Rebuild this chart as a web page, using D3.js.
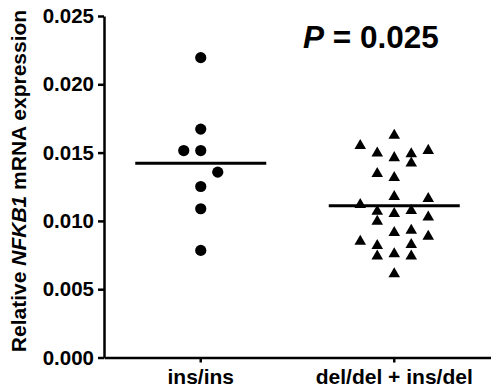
<!DOCTYPE html>
<html>
<head>
<meta charset="utf-8">
<script src="https://cdn.jsdelivr.net/npm/d3@7"></script>
<style>
  body { margin: 0; background: #fff; }
  svg { display: block; font-family: "Liberation Sans", Arial, sans-serif; }
</style>
</head>
<body>
<figure id="dot" style="margin:0"></figure>
<script>
// groups on the x axis
const groups = ["ins/ins", "del/del + ins/del"]
const yTicks = [0, 0.005, 0.010, 0.015, 0.020, 0.025]
const pLabel = "0.025"

// ins/ins values (circles) and their swarm column
const insValues = [0.02195, 0.01672, 0.01515, 0.01515, 0.01357, 0.01252, 0.01089, 0.00784]
const insSlot = [0, 0, -1, 0, 1, 0, 0, 0]

// del/del + ins/del values (triangles) and their swarm column
const delValues = [0.01625, 0.01550, 0.01496, 0.01462, 0.01491, 0.01423, 0.01515, 0.01345, 0.01316,
  0.01177, 0.01162, 0.01118, 0.01069, 0.01053, 0.01075, 0.00996, 0.01028, 0.00914, 0.00931,
  0.00887, 0.00850, 0.00819, 0.00826, 0.00758, 0.00741, 0.00741, 0.00612]
const delSlot = [0, -2, -1, 0, 1, 1, 2, -1, 0,
  0, 2, -2, -1, 0, 1, -1, 2, 0, 1,
  2, -2, -1, 1, 0, -1, 1, 0]

const width = 491
const height = 388
const marginLeft = 104
const plotTop = 16
const plotBottom = 357.5

const svg = d3.select("figure#dot")
  .append("svg")
  .attr("width", width)
  .attr("height", height)

const x = d3.scaleBand()
  .domain(groups)
  .range([marginLeft, width])
  .padding(0)

const y = d3.scaleLinear()
  .domain([0, 0.025])
  .range([plotBottom, plotTop])

// spread of the swarm columns
const slot = d3.scaleLinear().domain([-2, 2]).range([-34, 34])

// y axis
const yAxis = svg.append("g")
  .attr("transform", "translate(" + marginLeft + ",0)")
  .call(d3.axisLeft(y).tickValues(yTicks).tickFormat(d3.format(".3f")).tickSize(6).tickSizeOuter(0).tickPadding(4))
yAxis.select(".domain").attr("stroke-width", 2.5)
yAxis.selectAll(".tick line").attr("stroke-width", 2.5)
yAxis.selectAll("text")
  .style("font-size", "20.5px")
  .style("font-weight", "bold")
  .attr("fill", "#000")

// x axis
const xAxis = svg.append("g")
  .attr("transform", "translate(0," + plotBottom + ")")
  .call(d3.axisBottom(x).tickSize(5).tickSizeOuter(0).tickPadding(7))
xAxis.select(".domain").attr("stroke-width", 2.5)
xAxis.selectAll(".tick line").attr("stroke-width", 2.5)
xAxis.selectAll("text")
  .style("font-size", "21px")
  .style("font-weight", "bold")
  .attr("fill", "#000")

const cx = (g, s) => x(g) + x.bandwidth() / 2 + slot(s)

// circles
svg.selectAll("circle.ins")
  .data(insValues)
  .enter()
  .append("circle")
  .attr("class", "ins")
  .attr("cx", (d, i) => cx(groups[0], insSlot[i]))
  .attr("cy", d => y(d))
  .attr("r", 5.6)
  .attr("fill", "#000")

// triangles
svg.selectAll("path.del")
  .data(delValues)
  .enter()
  .append("path")
  .attr("class", "del")
  .attr("d", d3.symbol(d3.symbolTriangle, 58))
  .attr("transform", (d, i) => "translate(" + cx(groups[1], delSlot[i]) + "," + y(d) + ")")
  .attr("fill", "#000")

// mean lines
const means = [d3.mean(insValues), d3.mean(delValues)]
svg.selectAll("line.mean")
  .data(means)
  .enter()
  .append("line")
  .attr("class", "mean")
  .attr("x1", (d, i) => x(groups[i]) + x.bandwidth() / 2 - 65.5)
  .attr("x2", (d, i) => x(groups[i]) + x.bandwidth() / 2 + 65.5)
  .attr("y1", d => y(d))
  .attr("y2", d => y(d))
  .attr("stroke", "#000")
  .attr("stroke-width", 3)

// y title
const yTitle = svg.append("text")
  .attr("transform", "translate(26,181) rotate(-90)")
  .attr("text-anchor", "middle")
  .style("font-size", "21px")
  .style("font-weight", "bold")
yTitle.append("tspan").text("Relative ")
yTitle.append("tspan").style("font-style", "italic").text("NFKB1")
yTitle.append("tspan").text(" mRNA expression")

// P value
const pText = svg.append("text")
  .attr("x", 303)
  .attr("y", 48)
  .style("font-size", "31.5px")
  .style("font-weight", "bold")
pText.append("tspan").style("font-style", "italic").text("P")
pText.append("tspan").text(" = " + pLabel)
</script>
</body>
</html>
